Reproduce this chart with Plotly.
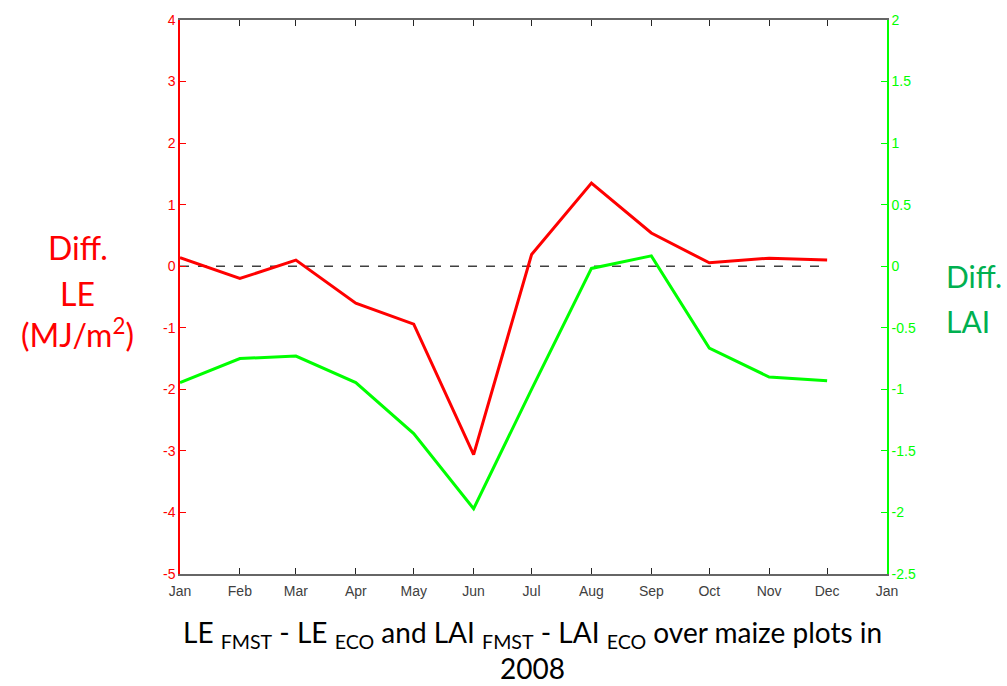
import plotly.graph_objects as go

months = ["2008-01-01", "2008-02-01", "2008-03-01", "2008-04-01", "2008-05-01", "2008-06-01",
          "2008-07-01", "2008-08-01", "2008-09-01", "2008-10-01", "2008-11-01", "2008-12-01"]
diff_le = [0.14, -0.20, 0.10, -0.60, -0.94, -3.06, 0.19, 1.35, 0.54, 0.055, 0.13, 0.10]
diff_lai = [-0.945, -0.75, -0.73, -0.945, -1.36, -1.97, -1.0, -0.018, 0.084, -0.665, -0.90, -0.93]
zero_line = [0] * 12

tick_dates = ["2008-01-01", "2008-02-01", "2008-03-01", "2008-04-01", "2008-05-01", "2008-06-01",
              "2008-07-01", "2008-08-01", "2008-09-01", "2008-10-01", "2008-11-01", "2008-12-01",
              "2009-01-01"]
tick_text = ["Jan", "Feb", "Mar", "Apr", "May", "Jun", "Jul", "Aug", "Sep", "Oct", "Nov", "Dec", "Jan"]
left_ticks = [4, 3, 2, 1, 0, -1, -2, -3, -4, -5]
left_ticktext = ["4", "3", "2", "1", "0", "-1", "-2", "-3", "-4", "-5"]
right_ticks = [2, 1.5, 1, 0.5, 0, -0.5, -1, -1.5, -2, -2.5]
right_ticktext = ["2", "1.5", "1", "0.5", "0", "-0.5", "-1", "-1.5", "-2", "-2.5"]

fig = go.Figure()
fig.add_trace(go.Scatter(x=months, y=zero_line, mode="lines",
                         line=dict(color="#404040", width=1.5, dash="dash"),
                         yaxis="y", hoverinfo="skip", showlegend=False))
fig.add_trace(go.Scatter(x=months, y=diff_le, mode="lines",
                         line=dict(color="#ff0000", width=3), yaxis="y", showlegend=False))
fig.add_trace(go.Scatter(x=months, y=diff_lai, mode="lines",
                         line=dict(color="#00ff00", width=3), yaxis="y2", showlegend=False))

tick_font = dict(family="Liberation Sans, Arial, sans-serif", size=14)
label_font = "Lato, Calibri, sans-serif"

fig.update_layout(
    width=1007, height=686,
    margin=dict(l=180, r=120, t=15, b=112),
    paper_bgcolor="white", plot_bgcolor="white",
    xaxis=dict(type="date", range=["2008-01-01", "2009-01-01"],
               tickvals=tick_dates, ticktext=tick_text,
               ticks="inside", ticklen=6, tickcolor="#262626", tickwidth=1,
               showline=True, linecolor="#666666", linewidth=1.5, mirror="ticks",
               showgrid=False, zeroline=False, ticklabelstandoff=3,
               tickfont=dict(color="#404040", **tick_font)),
    yaxis=dict(range=[-5, 4], tickvals=left_ticks, ticktext=left_ticktext,
               ticks="inside", ticklen=6, tickcolor="#ff0000",
               showline=True, linecolor="#ff0000", linewidth=1.5,
               showgrid=False, zeroline=False,
               tickfont=dict(color="#ff0000", **tick_font)),
    yaxis2=dict(range=[-2.5, 2], tickvals=right_ticks, ticktext=right_ticktext,
                overlaying="y", side="right",
                ticks="inside", ticklen=6, tickcolor="#00ff00",
                showline=True, linecolor="#00ff00", linewidth=1.5,
                showgrid=False, zeroline=False,
                tickfont=dict(color="#00ff00", **tick_font)),
)

# Left axis label
for txt, yp in [("Diff.", 245), ("LE", 291), ("(MJ/m<sup>2</sup>)", 331)]:
    fig.add_annotation(text=txt, xref="paper", yref="paper",
                       x=(78 - 180) / 707, y=(574 - yp) / 559,
                       xanchor="center", yanchor="middle", showarrow=False,
                       font=dict(family=label_font, size=32, color="#ff0000"))
# Right axis label
for txt, yp in [("Diff.", 273), ("LAI", 319)]:
    fig.add_annotation(text=txt, xref="paper", yref="paper",
                       x=(944 - 180) / 707, y=(574 - yp) / 559,
                       xanchor="left", yanchor="middle", showarrow=False,
                       font=dict(family=label_font, size=30, color="#00b050"))
# Bottom title
fig.add_annotation(text="LE <sub>FMST</sub> - LE <sub>ECO</sub> and LAI <sub>FMST</sub> - LAI <sub>ECO</sub> over maize plots in",
                   xref="paper", yref="paper", x=(532 - 180) / 707, y=(574 - 635) / 559,
                   xanchor="center", yanchor="middle", showarrow=False,
                   font=dict(family=label_font, size=28, color="black"))
fig.add_annotation(text="2008",
                   xref="paper", yref="paper", x=(532 - 180) / 707, y=(574 - 669) / 559,
                   xanchor="center", yanchor="middle", showarrow=False,
                   font=dict(family=label_font, size=28, color="black"))

fig.write_html("out.html")
